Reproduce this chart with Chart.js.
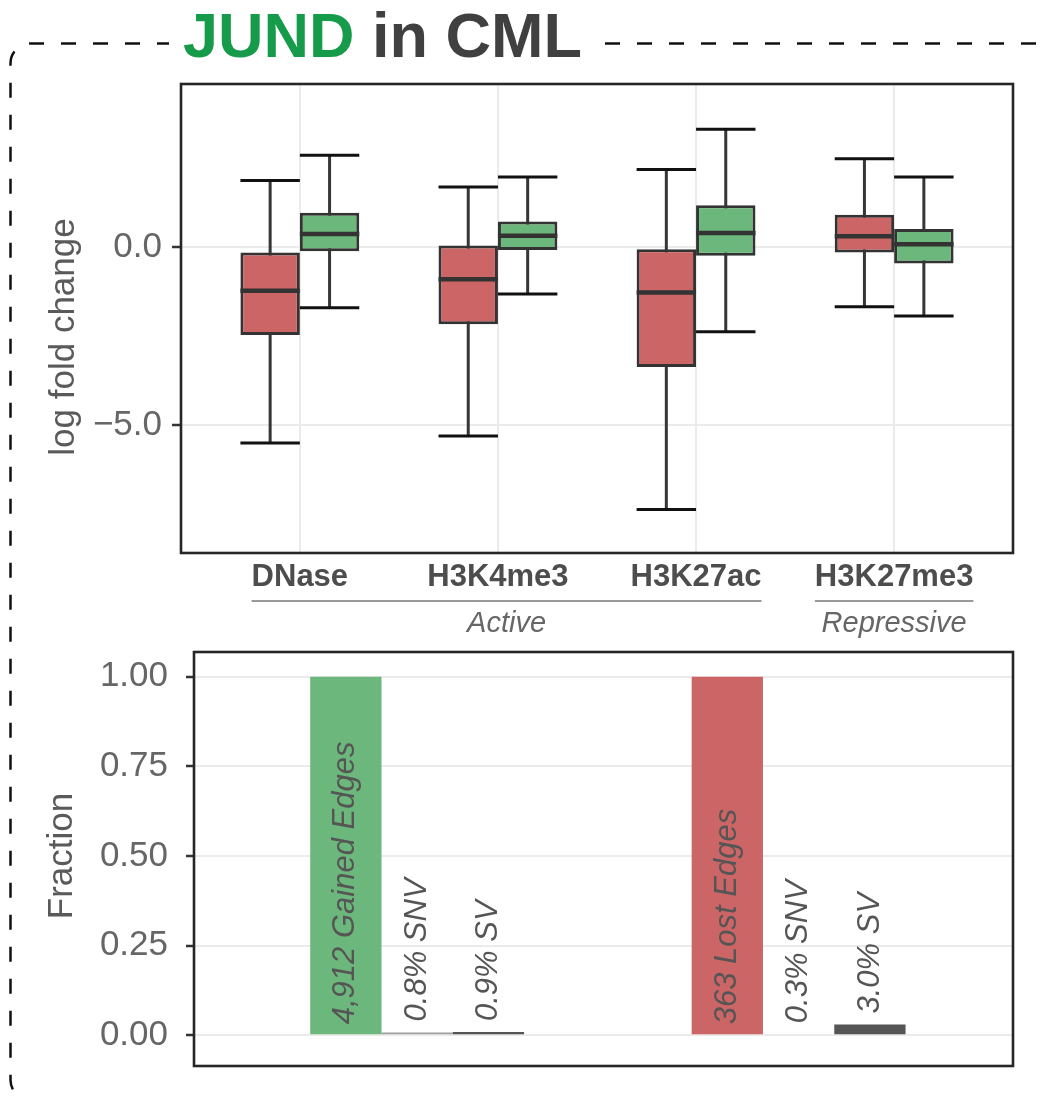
<!DOCTYPE html>
<html>
<head>
<meta charset="utf-8">
<script src="https://cdn.jsdelivr.net/npm/chart.js@4.4.1/dist/chart.umd.min.js"></script>
<style>
  html, body { margin: 0; padding: 0; background: #fff; }
  body { width: 1045px; height: 1096px; position: relative; overflow: hidden; }
  canvas { position: absolute; left: 0; }
  #frame { top: 0; }
  #boxChart { top: 0; }
  #barChart { top: 600px; }
  #title {
    position: absolute; left: 169px; top: 4px; padding: 0 14px; background: #fff;
    font: bold 63px/63px 'Liberation Sans', Arial, sans-serif; color: #404040; white-space: nowrap;
  }
  #title .tf { color: #169b4b; }
</style>
</head>
<body>
<canvas id="frame" width="1045" height="1096"></canvas>
<div id="title"><span class="tf">JUND</span> in CML</div>
<canvas id="boxChart" width="1045" height="650"></canvas>
<canvas id="barChart" width="1045" height="505"></canvas>
<script>
// 상단 박스플롯: log fold change
const marks = ['DNase', 'H3K4me3', 'H3K27ac', 'H3K27me3'];
const markGroups = ['Active', 'Repressive'];
const markGroupFirst = [0, 3];
const markGroupLast = [2, 3];

const lostMin    = [-5.49, -5.30, -7.36, -1.67];
const lostQ1     = [-2.46, -2.16, -3.36, -0.15];
const lostMedian = [-1.22, -0.90, -1.27,  0.31];
const lostQ3     = [-0.15,  0.05, -0.06,  0.91];
const lostMax    = [ 1.87,  1.69,  2.18,  2.48];

const gainedMin    = [-1.70, -1.31, -2.37, -1.93];
const gainedQ1     = [-0.11, -0.08, -0.24, -0.46];
const gainedMedian = [ 0.37,  0.32,  0.40,  0.08];
const gainedQ3     = [ 0.97,  0.72,  1.18,  0.51];
const gainedMax    = [ 2.58,  1.97,  3.31,  1.97];

const lfcTicks = [-5, 0];

// 하단 막대: Fraction
const edgeTypes = ['Gained', 'Lost'];
const edgeCounts = [4912, 363];
const allFraction = [1, 1];
const snvFraction = [0.008, 0.003];
const svFraction = [0.009, 0.030];
const fractionTicks = [0, 0.25, 0.5, 0.75, 1];

const FONT = "'Liberation Sans', Arial, sans-serif";
const GAIN = '#6cb77b';
const LOSS = '#cc6565';

// 점선 테두리
(function drawFrame() {
  const c = document.getElementById('frame').getContext('2d');
  c.strokeStyle = '#111';
  c.lineWidth = 2.5;
  c.setLineDash([15, 17]);
  c.beginPath();
  c.moveTo(1100, 43.5);
  c.arcTo(10.5, 43.5, 10.5, 80, 20);
  c.arcTo(10.5, 1100, 60, 1100, 20);
  c.lineTo(1100, 1100);
  c.stroke();
})();

// 패널 테두리
const panelBorder = {
  id: 'panelBorder',
  afterDraw(chart) {
    const {ctx, chartArea: a} = chart;
    ctx.save();
    ctx.strokeStyle = '#262626';
    ctx.lineWidth = 2.6;
    ctx.strokeRect(a.left, a.top, a.right - a.left, a.bottom - a.top);
    ctx.restore();
  }
};

// 세로 축 제목
const sideTitle = {
  id: 'sideTitle',
  afterDraw(chart, args, opts) {
    const ctx = chart.ctx;
    ctx.save();
    ctx.translate(opts.x, opts.y);
    ctx.rotate(-Math.PI / 2);
    ctx.font = '35px ' + FONT;
    ctx.fillStyle = '#5a5a5a';
    ctx.textAlign = 'center';
    ctx.textBaseline = 'alphabetic';
    ctx.fillText(opts.text, 0, 0);
    ctx.restore();
  }
};

// 수염, 캡, 중앙값
const boxWhiskers = {
  id: 'boxWhiskers',
  beforeDatasetsDraw(chart) {
    const {ctx, scales: {y}} = chart;
    chart.data.datasets.forEach((ds, d) => {
      chart.getDatasetMeta(d).data.forEach((bar, i) => {
        const half = bar.width / 2;
        const top = y.getPixelForValue(ds.stats.max[i]);
        const bottom = y.getPixelForValue(ds.stats.min[i]);
        ctx.save();
        ctx.strokeStyle = '#363636';
        ctx.lineWidth = 3;
        ctx.beginPath();
        ctx.moveTo(bar.x, top);
        ctx.lineTo(bar.x, bottom);
        ctx.stroke();
        ctx.strokeStyle = '#111';
        ctx.beginPath();
        ctx.moveTo(bar.x - half, top);
        ctx.lineTo(bar.x + half, top);
        ctx.moveTo(bar.x - half, bottom);
        ctx.lineTo(bar.x + half, bottom);
        ctx.stroke();
        ctx.restore();
      });
    });
  },
  afterDatasetsDraw(chart) {
    const {ctx, scales: {y}} = chart;
    chart.data.datasets.forEach((ds, d) => {
      chart.getDatasetMeta(d).data.forEach((bar, i) => {
        const half = bar.width / 2;
        const m = y.getPixelForValue(ds.stats.med[i]);
        ctx.save();
        ctx.strokeStyle = '#333';
        ctx.lineWidth = 4.5;
        ctx.beginPath();
        ctx.moveTo(bar.x - half, m);
        ctx.lineTo(bar.x + half, m);
        ctx.stroke();
        ctx.restore();
      });
    });
  }
};

// Active / Repressive 묶음 표시
const markGroupLines = {
  id: 'markGroupLines',
  afterDraw(chart) {
    const {ctx, scales: {x}} = chart;
    ctx.save();
    markGroups.forEach((g, k) => {
      const a = markGroupFirst[k], b = markGroupLast[k];
      ctx.font = 'bold 31px ' + FONT;
      const left = x.getPixelForValue(a) - ctx.measureText(marks[a]).width / 2;
      const right = x.getPixelForValue(b) + ctx.measureText(marks[b]).width / 2;
      ctx.strokeStyle = '#777';
      ctx.lineWidth = 1.6;
      ctx.beginPath();
      ctx.moveTo(left, 601);
      ctx.lineTo(right, 601);
      ctx.stroke();
      ctx.font = 'italic 29px ' + FONT;
      ctx.fillStyle = '#666';
      ctx.textAlign = 'center';
      ctx.textBaseline = 'alphabetic';
      ctx.fillText(g, (left + right) / 2, 632);
    });
    ctx.restore();
  }
};

const boxData = (q1, q3) => marks.map((m, i) => ({ x: i, y: [q1[i], q3[i]] }));

new Chart(document.getElementById('boxChart'), {
  type: 'bar',
  data: {
    datasets: [
      { label: 'Lost', data: boxData(lostQ1, lostQ3), backgroundColor: LOSS,
        stats: { min: lostMin, med: lostMedian, max: lostMax } },
      { label: 'Gained', data: boxData(gainedQ1, gainedQ3), backgroundColor: GAIN,
        stats: { min: gainedMin, med: gainedMedian, max: gainedMax } }
    ]
  },
  options: {
    responsive: false,
    animation: false,
    layout: { padding: { top: 84, right: 32, left: 0, bottom: 0 } },
    categoryPercentage: 0.6,
    barPercentage: 1,
    borderColor: '#333',
    borderWidth: 3,
    borderSkipped: false,
    plugins: {
      legend: { display: false },
      tooltip: { enabled: false },
      sideTitle: { text: 'log fold change', x: 74, y: 337 }
    },
    scales: {
      x: {
        type: 'linear', min: -0.6, max: 3.6, offset: false,
        afterBuildTicks: s => { s.ticks = marks.map((m, i) => ({ value: i })); },
        afterFit: s => { s.height = 97; },
        grid: { offset: false, color: '#ebebeb', lineWidth: 2, drawTicks: false },
        border: { display: false },
        ticks: {
          autoSkip: false, maxRotation: 0, padding: 6, color: '#4d4d4d',
          font: { family: FONT, size: 31, weight: 'bold' },
          callback: v => marks[v]
        }
      },
      y: {
        min: -8.58, max: 4.58,
        afterBuildTicks: s => { s.ticks = lfcTicks.map(v => ({ value: v })); },
        afterFit: s => { s.width = 181; },
        grid: { color: '#ebebeb', lineWidth: 2, tickColor: '#333', tickLength: 9, tickWidth: 2.5 },
        border: { display: false },
        ticks: {
          padding: 10, color: '#666', font: { family: FONT, size: 35 },
          callback: v => (v < 0 ? '\u2212' : '') + Math.abs(v).toFixed(1)
        }
      }
    }
  },
  plugins: [boxWhiskers, panelBorder, sideTitle, markGroupLines]
});

// 막대 위 글자
const barText = {
  id: 'barText',
  afterDatasetsDraw(chart) {
    const {ctx, scales: {y}} = chart;
    chart.data.datasets.forEach((ds, d) => {
      chart.getDatasetMeta(d).data.forEach((bar, i) => {
        const base = ds.inside ? y.getPixelForValue(0) : y.getPixelForValue(ds.data[i].y);
        ctx.save();
        ctx.translate(bar.x, base - 11);
        ctx.rotate(-Math.PI / 2);
        ctx.font = 'italic 31px ' + FONT;
        ctx.fillStyle = '#555';
        ctx.textAlign = 'left';
        ctx.textBaseline = 'middle';
        ctx.fillText(ds.texts[i], 0, 0);
        ctx.restore();
      });
    });
  }
};

const pts = vals => edgeTypes.map((t, i) => ({ x: i, y: vals[i] }));

new Chart(document.getElementById('barChart'), {
  type: 'bar',
  data: {
    datasets: [
      { label: 'Edges', data: pts(allFraction), backgroundColor: [GAIN, LOSS], inside: true,
        texts: edgeTypes.map((t, i) => edgeCounts[i].toLocaleString('en-US') + ' ' + t + ' Edges') },
      { label: 'SNV', data: pts(snvFraction), backgroundColor: '#9e9e9e',
        texts: snvFraction.map(v => (v * 100).toFixed(1) + '% SNV') },
      { label: 'SV', data: pts(svFraction), backgroundColor: '#555',
        texts: svFraction.map(v => (v * 100).toFixed(1) + '% SV') }
    ]
  },
  options: {
    responsive: false,
    animation: false,
    layout: { padding: { top: 52, right: 32, left: 0, bottom: 0 } },
    categoryPercentage: 0.5607,
    barPercentage: 1,
    borderWidth: 0,
    plugins: {
      legend: { display: false },
      tooltip: { enabled: false },
      sideTitle: { text: 'Fraction', x: 72, y: 256 }
    },
    scales: {
      x: {
        type: 'linear', display: false, min: -0.585, max: 1.562, offset: false,
        afterBuildTicks: s => { s.ticks = edgeTypes.map((t, i) => ({ value: i })); },
        grid: { offset: false }
      },
      y: {
        min: -0.0857, max: 1.069,
        afterBuildTicks: s => { s.ticks = fractionTicks.map(v => ({ value: v })); },
        afterFit: s => { s.width = 194; },
        grid: { color: '#ebebeb', lineWidth: 2, tickColor: '#333', tickLength: 8, tickWidth: 2.5 },
        border: { display: false },
        ticks: {
          padding: 18, color: '#666', font: { family: FONT, size: 35 },
          callback: v => v.toFixed(2)
        }
      }
    }
  },
  plugins: [barText, panelBorder, sideTitle]
});
</script>
</body>
</html>
